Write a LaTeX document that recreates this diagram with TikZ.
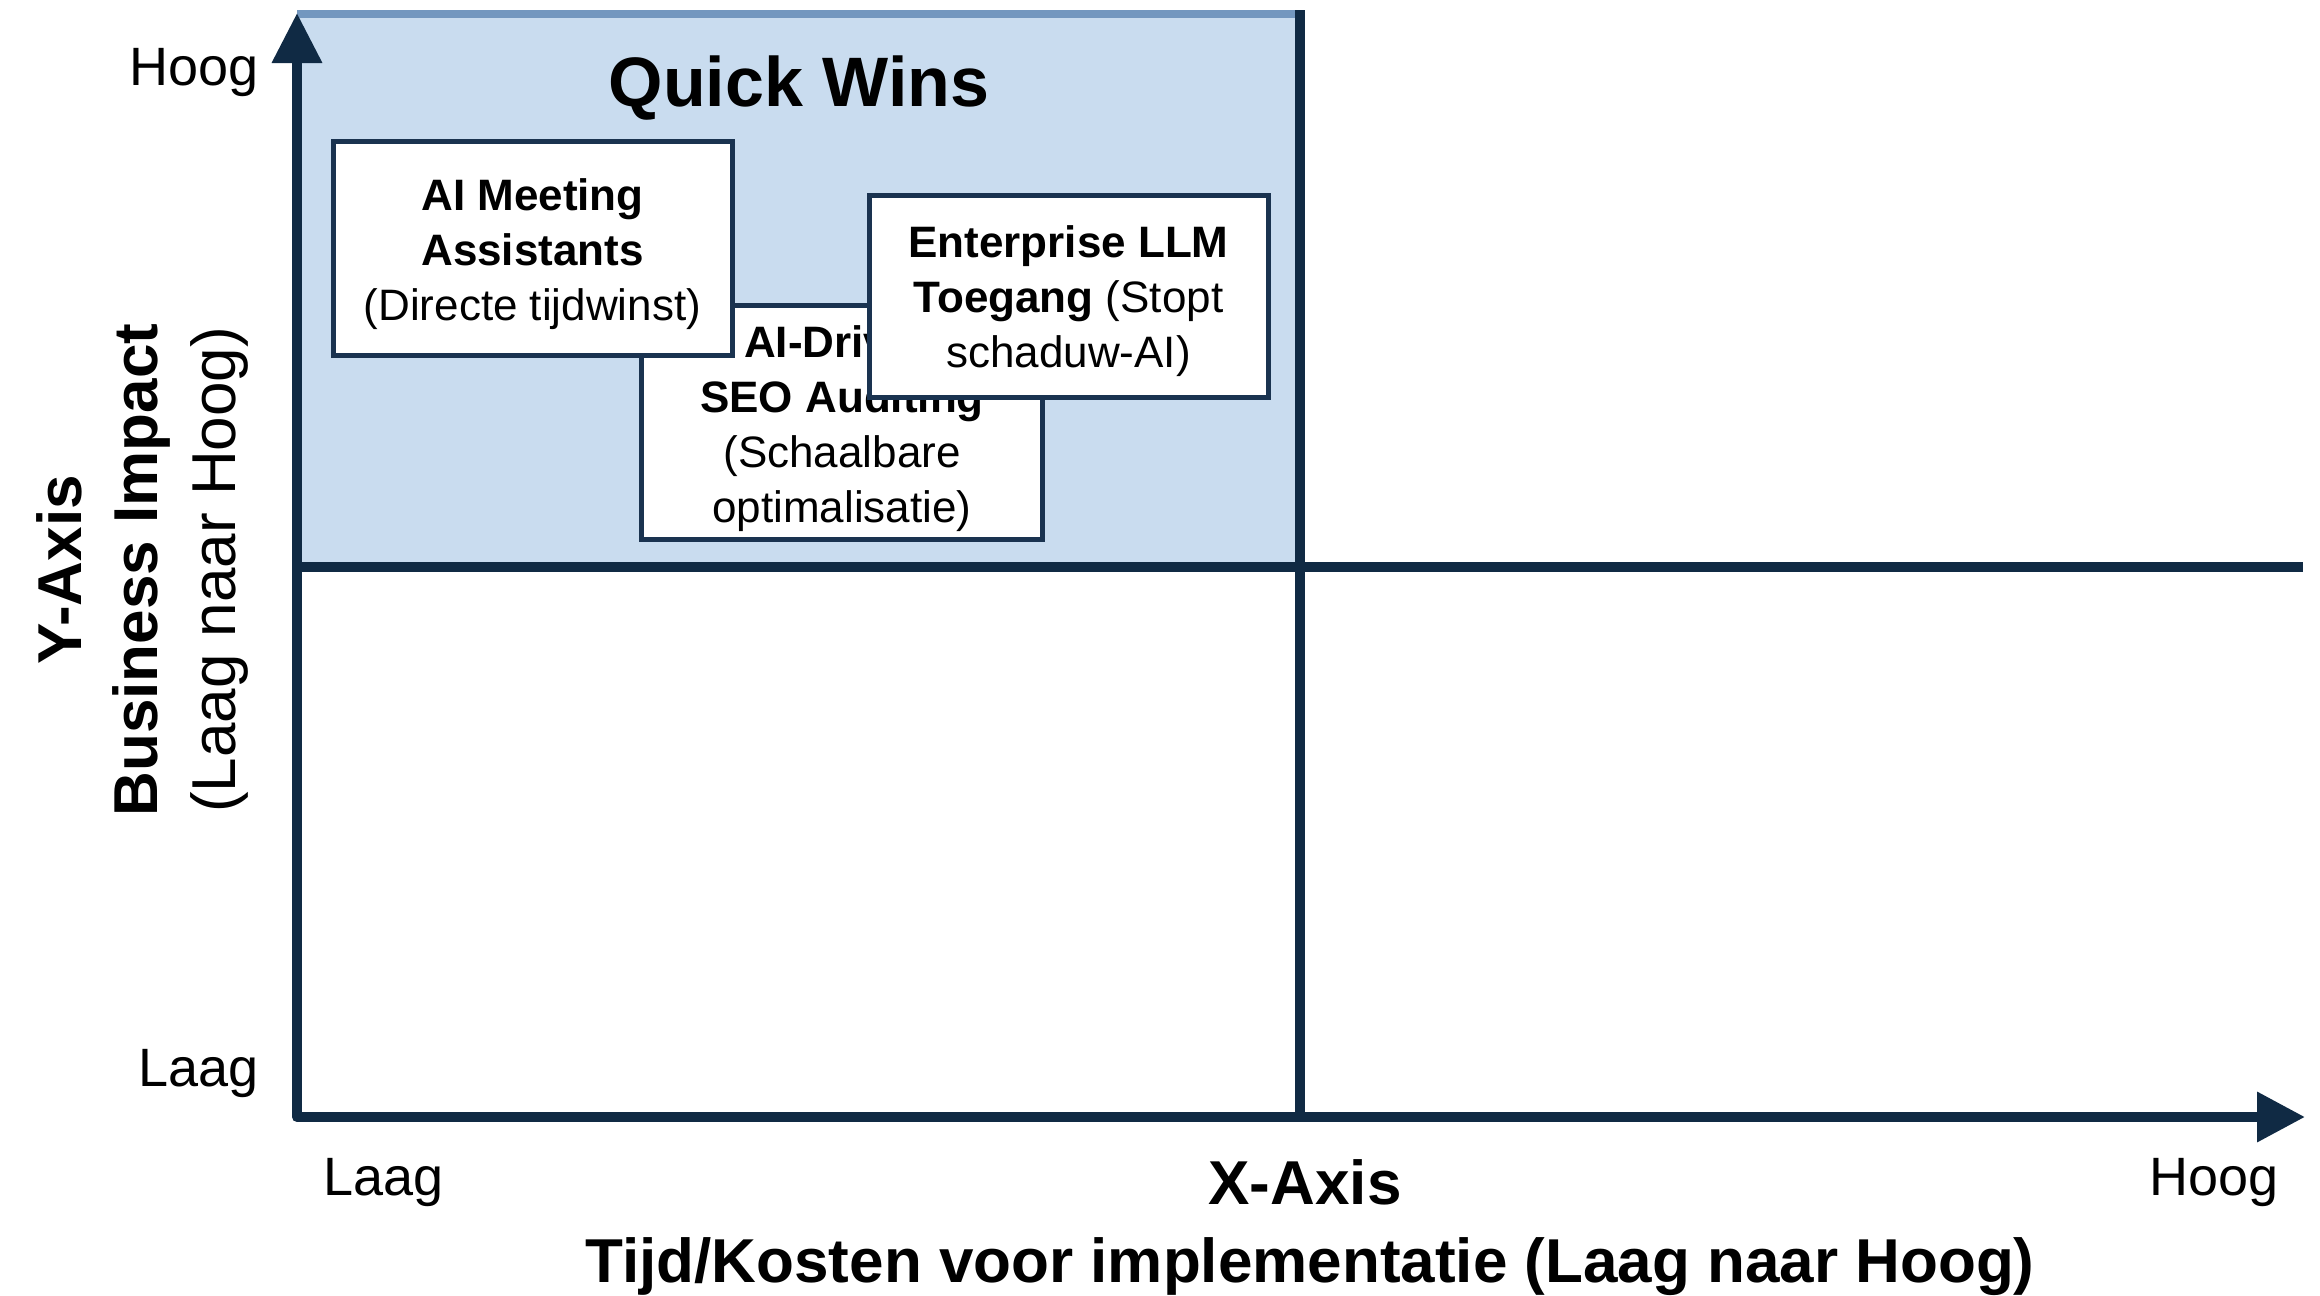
\documentclass[tikz,border=0pt]{standalone}
\usepackage{fontspec}
\setmainfont{Liberation Sans}
\usetikzlibrary{arrows.meta}
\definecolor{navy}{HTML}{102A44}
\definecolor{boxline}{HTML}{1A3350}
\definecolor{qwfill}{HTML}{C9DCEF}
\definecolor{qwtop}{HTML}{7397BF}
\tikzset{
  axisline/.style={draw=navy, line width=5pt, line join=round},
  qbox/.style={draw=boxline, line width=2.5pt, fill=white, inner sep=0pt},
  qtext/.style={align=center, inner sep=0pt, font=\fontsize{22}{27.5}\selectfont},
  ticklbl/.style={font=\fontsize{27}{32}\selectfont, inner sep=0pt},
  axtitle/.style={font=\fontsize{31}{36}\selectfont\bfseries, inner sep=0pt},
}
\begin{document}
\begin{tikzpicture}[x=0.5pt,y=-0.5pt]
\useasboundingbox (0,0) rectangle (2320,1296);
\coordinate (O) at (297,1117);
\coordinate (ytip) at (297,13);
\coordinate (xtip) at (2305,1117);
\coordinate (qtl) at (297,14);
\coordinate (qbr) at (1300,567);
\coordinate (qtr) at (1300,14);
\coordinate (vtop) at (1300,10);
\coordinate (vbot) at (1300,1117);
\coordinate (hl) at (297,567);
\coordinate (hr) at (2303,567);
% quick wins quadrant
\fill[qwfill] (qtl) rectangle (qbr);
\draw[qwtop, line width=4pt] (qtl) -- (qtr);
% quadrant lines
\draw[axisline] (vtop) -- (vbot);
\draw[axisline] (hl) -- (hr);
% axes
\draw[axisline, {Triangle[length=25pt,width=24pt]}-{Triangle[length=24pt,width=24pt]}] (ytip) -- (O) -- (xtip);
% title
\node[font=\fontsize{35}{40}\selectfont\bfseries, inner sep=0pt] (qw) at (799,88) {Quick Wins};
% boxes
\node[qbox, minimum width=200.5pt, minimum height=117pt] (b2) at (842,422) {};
\node[qtext, yshift=-3.5pt] (t2) at (b2.center)
  {\textbf{AI-Driven}\\\textbf{SEO Auditing}\\(Schaalbare\\optimalisatie)};
\node[qbox, minimum width=199.5pt, minimum height=107pt] (b1) at (532.5,248) {};
\node[qtext, yshift=-3pt] (t1) at (b1.center)
  {\textbf{AI Meeting}\\\textbf{Assistants}\\(Directe tijdwinst)};
\node[qbox, minimum width=199.5pt, minimum height=101pt] (b3) at (1068.5,296) {};
\node[qtext, yshift=-2.5pt] (t3) at (b3.center)
  {\textbf{Enterprise LLM}\\\textbf{Toegang} (Stopt\\schaduw-AI)};
% tick labels
\node[ticklbl, anchor=east] (yh) at (259,73) {Hoog};
\node[ticklbl, anchor=east] (yl) at (259,1074) {Laag};
\node[ticklbl, anchor=west] (xl) at (323,1183) {Laag};
\node[ticklbl, anchor=east] (xh) at (2279,1183) {Hoog};
% axis titles
\node[axtitle] (xt) at (1305,1182) {X-Axis};
\node[axtitle] (xs) at (1310,1267) {Tijd/Kosten voor implementatie (Laag naar Hoog)};
\node[axtitle, rotate=90] (yt) at (59,570) {Y-Axis};
\node[axtitle, rotate=90] (ys) at (141,570) {Business Impact};
\node[font=\fontsize{31}{36}\selectfont, inner sep=0pt, rotate=90] (ys2) at (219,570) {(Laag naar Hoog)};
\end{tikzpicture}
\end{document}
